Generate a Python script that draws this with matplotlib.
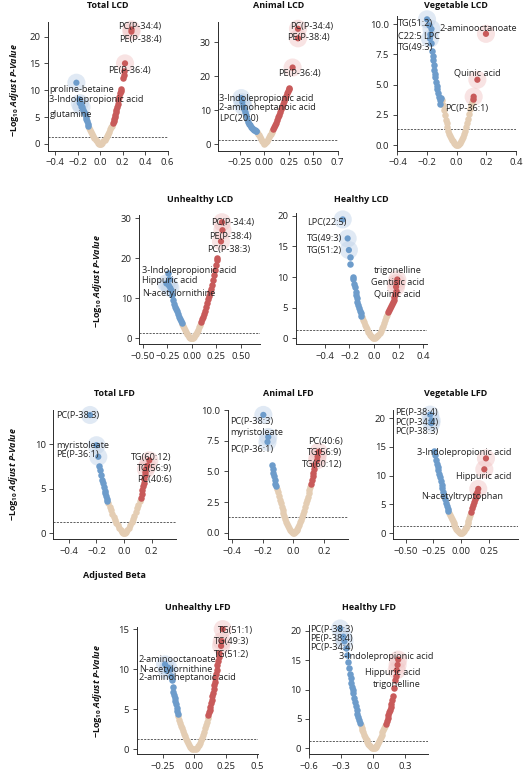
import matplotlib.pyplot as plt
import numpy as np

plt.rcParams['font.family'] = ['Open Sans', 'DejaVu Sans']
plt.rcParams['mathtext.fontset'] = 'custom'
plt.rcParams['mathtext.rm'] = 'Open Sans'
plt.rcParams['mathtext.bf'] = 'Open Sans:bold'
plt.rcParams['mathtext.it'] = 'Open Sans:italic:bold'

BLUE = '#6d9ccb'
RED = '#c85a5a'
TAN = '#e4cdb3'
BLUE_HL = '#c3d5ea'
RED_HL = '#f2c8c8'
INK = '#2b2b2b'

# ---------------- data: (beta, -log10 adjusted p) ----------------
total_lcd_down = [(-0.185, 8.3), (-0.178, 7.9), (-0.17, 7.4), (-0.16, 6.8), (-0.15, 6.4), (-0.14, 6.0),
                  (-0.133, 5.6), (-0.127, 5.1), (-0.122, 4.7), (-0.116, 4.3), (-0.11, 3.8), (-0.105, 3.4)]
total_lcd_ns = [(-0.10, 3.0), (-0.09, 2.6), (-0.08, 2.2), (-0.07, 1.8), (-0.06, 1.4), (-0.05, 1.1), (-0.04, 0.8),
                (-0.03, 0.5), (-0.02, 0.25), (-0.01, 0.08), (0.0, 0.0), (0.01, 0.08), (0.02, 0.25), (0.03, 0.5),
                (0.04, 0.8), (0.05, 1.1), (0.06, 1.5), (0.07, 1.9), (0.08, 2.3), (0.09, 2.7), (0.10, 3.1), (0.11, 3.4)]
total_lcd_up = [(0.118, 3.9), (0.122, 4.2), (0.126, 4.6), (0.13, 5.0), (0.135, 5.4), (0.14, 5.9), (0.145, 6.3),
                (0.15, 6.8), (0.156, 7.4), (0.163, 8.2), (0.17, 8.8), (0.176, 9.4), (0.182, 9.9), (0.186, 10.2),
                (0.205, 12.3), (0.21, 12.9), (0.215, 13.5)]
total_lcd_named = [("PC(P-34:4)", 0.28, 21.3), ("PE(P-38:4)", 0.279, 20.9), ("PE(P-36:4)", 0.222, 15.0),
                   ("proline-betaine", -0.21, 11.4), ("3-Indolepropionic acid", -0.18, 7.6),
                   ("glutamine", -0.165, 6.9)]

animal_lcd_down = [(-0.205, 10.5), (-0.198, 9.5), (-0.19, 8.5), (-0.18, 7.4), (-0.17, 6.7), (-0.16, 6.1),
                   (-0.15, 5.6), (-0.14, 5.2), (-0.13, 4.9), (-0.12, 4.6), (-0.11, 4.3), (-0.10, 4.1),
                   (-0.09, 3.9), (-0.082, 3.8)]
animal_lcd_ns = [(-0.075, 3.6), (-0.065, 3.1), (-0.055, 2.6), (-0.045, 2.1), (-0.035, 1.6), (-0.025, 1.1),
                 (-0.015, 0.6), (-0.007, 0.25), (0.0, 0.0), (0.007, 0.25), (0.015, 0.6), (0.025, 1.1),
                 (0.035, 1.6), (0.045, 2.1), (0.055, 2.6), (0.065, 3.1), (0.075, 3.6), (0.082, 4.0)]
animal_lcd_up = [(0.09, 4.4), (0.10, 5.0), (0.11, 5.7), (0.12, 6.4), (0.13, 7.1), (0.14, 7.9), (0.15, 8.7),
                 (0.16, 9.5), (0.17, 10.3), (0.18, 11.1), (0.19, 11.9), (0.20, 12.7), (0.21, 13.5),
                 (0.22, 14.3), (0.23, 15.0), (0.24, 15.6), (0.25, 16.2), (0.256, 16.6)]
animal_lcd_named = [("PC(P-34:4)", 0.345, 34.0), ("PE(P-38:4)", 0.345, 31.2), ("PE(P-36:4)", 0.29, 22.6),
                    ("3-Indolepropionic acid", -0.235, 13.6), ("2-aminoheptanoic acid", -0.225, 12.4),
                    ("LPC(20:0)", -0.215, 11.2)]

veg_lcd_down = [(-0.185, 9.9), (-0.178, 9.2), (-0.17, 8.4), (-0.165, 7.8), (-0.16, 7.4), (-0.158, 7.0),
                (-0.155, 6.6), (-0.152, 6.2), (-0.148, 5.9), (-0.145, 5.6), (-0.14, 5.2), (-0.135, 4.9),
                (-0.13, 4.6), (-0.125, 4.3), (-0.12, 4.0), (-0.115, 3.7), (-0.11, 3.4), (-0.104, 3.9)]
veg_lcd_ns = [(-0.098, 3.7), (-0.092, 3.3), (-0.086, 2.9), (-0.08, 2.5), (-0.074, 2.1), (-0.068, 1.8),
              (-0.062, 1.5), (-0.056, 1.2), (-0.05, 0.95), (-0.044, 0.75), (-0.038, 0.6), (-0.032, 0.45),
              (-0.026, 0.3), (-0.02, 0.18), (-0.013, 0.08), (-0.006, 0.02), (0.0, 0.0), (0.006, 0.02),
              (0.013, 0.08), (0.02, 0.18), (0.027, 0.32), (0.034, 0.48), (0.041, 0.68), (0.048, 0.9),
              (0.055, 1.15), (0.062, 1.45), (0.069, 1.8), (0.076, 2.15), (0.083, 2.55), (0.09, 2.95),
              (0.096, 3.3), (0.102, 3.6)]
veg_lcd_up = [(0.108, 3.8)]
veg_lcd_named = [("TG(51:2)", -0.2, 10.4), ("C22:5 LPC", -0.17, 9.6), ("TG(49:3)", -0.18, 8.8),
                 ("2-aminooctanoate", 0.198, 9.2), ("Quinic acid", 0.14, 5.4), ("PC(P-36:1)", 0.115, 4.0)]

unh_lcd_down = [(-0.245, 16.2), (-0.23, 14.8), (-0.21, 12.0), (-0.2, 10.8), (-0.19, 9.5), (-0.18, 8.6),
                (-0.17, 7.9), (-0.16, 7.3), (-0.15, 6.7), (-0.14, 6.0), (-0.13, 5.3), (-0.12, 4.7),
                (-0.11, 4.2), (-0.10, 3.8)]
unh_lcd_ns = [(-0.095, 3.5), (-0.085, 3.0), (-0.075, 2.5), (-0.065, 2.0), (-0.055, 1.55), (-0.045, 1.15),
              (-0.035, 0.8), (-0.025, 0.45), (-0.015, 0.2), (-0.007, 0.05), (0.0, 0.0), (0.007, 0.05),
              (0.015, 0.2), (0.025, 0.45), (0.035, 0.8), (0.045, 1.2), (0.055, 1.65), (0.065, 2.2),
              (0.075, 2.8), (0.085, 3.4)]
unh_lcd_up = [(0.095, 4.0), (0.105, 4.7), (0.115, 5.4), (0.125, 6.1), (0.135, 6.9), (0.145, 7.8), (0.155, 8.7),
              (0.165, 9.7), (0.175, 10.6), (0.185, 11.5), (0.195, 12.4), (0.205, 13.3), (0.215, 14.5),
              (0.225, 15.8), (0.235, 17.0), (0.245, 18.3), (0.255, 19.5), (0.262, 20.0)]
unh_lcd_named = [("PC(P-34:4)", 0.31, 29.0), ("PE(P-38:4)", 0.315, 27.0), ("PC(P-38:3)", 0.30, 24.2),
                 ("3-Indolepropionic acid", -0.26, 13.7), ("Hippuric acid", -0.235, 13.2),
                 ("N-acetylornithine", -0.22, 12.6)]

hea_lcd_down = [(-0.198, 13.3), (-0.193, 12.2), (-0.175, 10.0), (-0.17, 9.6), (-0.162, 8.9), (-0.155, 8.3),
                (-0.15, 7.6), (-0.145, 7.0), (-0.14, 6.5), (-0.135, 6.0), (-0.13, 5.5), (-0.125, 5.0),
                (-0.118, 4.5), (-0.11, 4.1), (-0.103, 3.7)]
hea_lcd_ns = [(-0.097, 3.4), (-0.09, 3.0), (-0.082, 2.6), (-0.074, 2.2), (-0.066, 1.8), (-0.058, 1.45),
              (-0.05, 1.1), (-0.042, 0.8), (-0.034, 0.55), (-0.026, 0.33), (-0.018, 0.15), (-0.009, 0.04),
              (0.0, 0.0), (0.009, 0.04), (0.018, 0.15), (0.027, 0.35), (0.036, 0.6), (0.045, 0.9),
              (0.054, 1.25), (0.063, 1.65), (0.072, 2.05), (0.081, 2.5), (0.09, 2.95), (0.099, 3.4),
              (0.108, 3.85)]
hea_lcd_up = [(0.117, 4.3), (0.123, 4.7), (0.13, 5.0), (0.137, 5.3), (0.145, 5.6), (0.152, 5.9), (0.16, 6.3),
              (0.165, 6.8), (0.172, 7.3), (0.178, 7.8)]
hea_lcd_named = [("LPC(22:5)", -0.255, 19.4), ("TG(49:3)", -0.215, 16.3), ("TG(51:2)", -0.205, 14.4),
                 ("trigonelline", 0.19, 9.6), ("Gentisic acid", 0.185, 9.0), ("Quinic acid", 0.18, 8.4)]

total_lfd_down = [(-0.18, 7.6), (-0.175, 7.1), (-0.165, 6.5), (-0.158, 6.0), (-0.15, 5.6), (-0.145, 5.2),
                  (-0.14, 4.8), (-0.135, 4.5), (-0.13, 4.2), (-0.125, 3.9), (-0.12, 3.6)]
total_lfd_ns = [(-0.115, 3.4), (-0.105, 3.0), (-0.095, 2.6), (-0.085, 2.2), (-0.075, 1.85), (-0.065, 1.5),
                (-0.055, 1.2), (-0.045, 0.9), (-0.035, 0.6), (-0.025, 0.35), (-0.015, 0.15), (-0.007, 0.04),
                (0.0, 0.0), (0.007, 0.04), (0.015, 0.15), (0.025, 0.35), (0.035, 0.6), (0.045, 0.9),
                (0.055, 1.25), (0.065, 1.6), (0.075, 2.0), (0.085, 2.4), (0.095, 2.8), (0.105, 3.2),
                (0.115, 3.6)]
total_lfd_up = [(0.124, 4.0), (0.13, 4.4), (0.134, 4.9), (0.138, 5.3), (0.142, 5.7), (0.146, 6.1),
                (0.15, 6.5), (0.155, 6.9)]
total_lfd_named = [("PC(P-38:3)", -0.247, 13.3), ("myristoleate", -0.2, 9.9), ("PE(P-36:1)", -0.187, 8.6),
                   ("TG(60:12)", 0.184, 8.2), ("TG(56:9)", 0.17, 7.6), ("PC(40:6)", 0.16, 7.2)]

animal_lfd_down = [(-0.14, 5.5), (-0.134, 5.2), (-0.13, 4.9), (-0.127, 4.6), (-0.122, 4.3), (-0.117, 4.0),
                   (-0.112, 3.8)]
animal_lfd_ns = [(-0.106, 3.55), (-0.1, 3.3), (-0.094, 3.0), (-0.088, 2.7), (-0.082, 2.4), (-0.076, 2.1),
                 (-0.07, 1.85), (-0.064, 1.6), (-0.058, 1.35), (-0.052, 1.1), (-0.046, 0.9), (-0.04, 0.7),
                 (-0.034, 0.52), (-0.028, 0.36), (-0.022, 0.22), (-0.016, 0.12), (-0.01, 0.05),
                 (-0.004, 0.01), (0.003, 0.01), (0.009, 0.05), (0.015, 0.11), (0.021, 0.2), (0.027, 0.32),
                 (0.033, 0.47), (0.039, 0.65), (0.045, 0.85), (0.051, 1.05), (0.057, 1.3), (0.063, 1.55),
                 (0.069, 1.8), (0.075, 2.1), (0.081, 2.4), (0.087, 2.7), (0.093, 2.95), (0.099, 3.2),
                 (0.105, 3.45), (0.111, 3.7)]
animal_lfd_up = [(0.117, 4.0), (0.121, 4.3), (0.125, 4.6), (0.128, 4.9), (0.132, 5.2), (0.136, 5.5)]
animal_lfd_named = [("PC(P-38:3)", -0.195, 9.6), ("myristoleate", -0.163, 7.8), ("PC(P-36:1)", -0.168, 7.4),
                    ("PC(40:6)", 0.165, 6.6), ("TG(56:9)", 0.158, 6.2), ("TG(60:12)", 0.155, 5.9)]

veg_lfd_down = [(-0.245, 14.3), (-0.236, 13.6), (-0.228, 12.8), (-0.22, 12.1), (-0.213, 11.5), (-0.206, 10.9),
                (-0.198, 10.3), (-0.19, 9.7), (-0.183, 9.0), (-0.176, 8.4), (-0.168, 7.8), (-0.16, 7.2),
                (-0.152, 6.5), (-0.145, 5.9), (-0.138, 5.3), (-0.13, 4.7), (-0.122, 4.2), (-0.115, 3.9)]
veg_lfd_ns = [(-0.108, 3.6), (-0.1, 3.2), (-0.092, 2.8), (-0.084, 2.4), (-0.076, 2.05), (-0.068, 1.7),
              (-0.06, 1.4), (-0.052, 1.1), (-0.044, 0.8), (-0.036, 0.55), (-0.028, 0.35), (-0.02, 0.18),
              (-0.012, 0.06), (-0.004, 0.01), (0.004, 0.01), (0.012, 0.07), (0.02, 0.2), (0.028, 0.4),
              (0.036, 0.65), (0.044, 0.95), (0.052, 1.3), (0.06, 1.7), (0.068, 2.15), (0.076, 2.6),
              (0.084, 3.1)]
veg_lfd_up = [(0.092, 3.7), (0.1, 4.3), (0.108, 4.9), (0.116, 5.4), (0.124, 5.9), (0.132, 6.3), (0.14, 6.8),
              (0.148, 7.2)]
veg_lfd_named = [("PE(P-38:4)", -0.28, 20.6), ("PC(P-34:4)", -0.267, 19.6), ("PC(P-38:3)", -0.27, 19.1),
                 ("3-Indolepropionic acid", 0.227, 13.0), ("Hippuric acid", 0.212, 11.1),
                 ("N-acetyltryptophan", 0.157, 7.7)]

unh_lfd_down = [(-0.19, 10.0), (-0.182, 9.2), (-0.177, 8.6), (-0.17, 7.8), (-0.164, 7.2), (-0.158, 6.8),
                (-0.152, 6.4), (-0.147, 6.0), (-0.143, 5.6), (-0.139, 5.2), (-0.135, 4.8), (-0.131, 4.4)]
unh_lfd_ns = [(-0.125, 4.1), (-0.117, 3.7), (-0.109, 3.3), (-0.101, 2.95), (-0.093, 2.6), (-0.085, 2.25),
              (-0.077, 1.9), (-0.069, 1.6), (-0.061, 1.3), (-0.053, 1.0), (-0.045, 0.75), (-0.037, 0.52),
              (-0.029, 0.33), (-0.021, 0.18), (-0.013, 0.07), (-0.005, 0.01), (0.005, 0.01), (0.013, 0.07),
              (0.021, 0.18), (0.029, 0.35), (0.037, 0.56), (0.045, 0.82), (0.053, 1.12), (0.061, 1.45),
              (0.069, 1.8), (0.077, 2.2), (0.085, 2.6), (0.093, 3.0), (0.101, 3.45), (0.109, 3.9)]
unh_lfd_up = [(0.115, 4.3), (0.12, 4.6), (0.125, 4.9), (0.13, 5.3), (0.135, 5.8), (0.14, 6.2), (0.145, 6.6),
              (0.15, 7.0), (0.155, 7.5), (0.16, 8.0), (0.165, 8.4), (0.17, 8.9), (0.175, 9.4), (0.18, 9.9),
              (0.185, 10.5), (0.19, 11.0), (0.195, 11.5), (0.2, 12.0)]
unh_lfd_named = [("TG(51:1)", 0.228, 15.0), ("TG(49:3)", 0.22, 13.5), ("TG(51:2)", 0.215, 12.9),
                 ("2-aminooctanoate", -0.23, 10.6), ("N-acetylornithine", -0.205, 10.2),
                 ("2-aminoheptanoic acid", -0.215, 9.8)]

hea_lfd_down = [(-0.255, 17.0), (-0.244, 15.9), (-0.237, 14.7), (-0.23, 13.6), (-0.221, 12.7), (-0.212, 11.9),
                (-0.206, 11.2), (-0.2, 10.5), (-0.194, 9.9), (-0.187, 9.4), (-0.18, 8.6), (-0.172, 7.9),
                (-0.164, 7.2), (-0.156, 6.5), (-0.148, 5.9), (-0.14, 5.4), (-0.133, 4.8), (-0.125, 4.3)]
hea_lfd_ns = [(-0.118, 3.9), (-0.11, 3.5), (-0.102, 3.1), (-0.094, 2.7), (-0.086, 2.35), (-0.078, 2.0),
              (-0.07, 1.65), (-0.062, 1.35), (-0.054, 1.05), (-0.046, 0.8), (-0.038, 0.55), (-0.03, 0.35),
              (-0.022, 0.2), (-0.014, 0.08), (-0.006, 0.01), (0.006, 0.01), (0.014, 0.08), (0.022, 0.2),
              (0.03, 0.38), (0.038, 0.6), (0.046, 0.88), (0.054, 1.2), (0.062, 1.55), (0.07, 1.95),
              (0.078, 2.35), (0.086, 2.75), (0.094, 3.15), (0.102, 3.5), (0.11, 3.8)]
hea_lfd_up = [(0.12, 4.1), (0.128, 4.6), (0.135, 5.1), (0.142, 5.6), (0.15, 6.1), (0.156, 6.5), (0.162, 7.1),
              (0.167, 7.6), (0.175, 8.3), (0.182, 8.9), (0.193, 10.3), (0.203, 11.6), (0.21, 12.3)]
hea_lfd_named = [("PC(P-38:3)", -0.31, 20.4), ("PE(P-38:4)", -0.28, 19.0), ("PC(P-34:4)", -0.27, 18.2),
                 ("3-Indolepropionic acid", 0.234, 15.1), ("Hippuric acid", 0.228, 14.2),
                 ("trigonelline", 0.22, 13.3)]

SIG_LINE = -np.log10(0.05)

# ---------------- layout (pixels in a 523 x 776 figure) ----------------
W, H = 523, 776
fig = plt.figure(figsize=(W / 100, H / 100), dpi=100)

M = '\u2212'


def fmt(vals, nd):
    return [(M if v < 0 else '') + f"{abs(v):.{nd}f}" for v in vals]


def panel(box, title, title_y, xlim, ylim, xticks, xlabels, yticks, ylabels,
          down, ns, up, named, text_pos):
    l, t, r, b = box
    ax = fig.add_axes([l / W, 1 - b / H, (r - l) / W, (b - t) / H])
    ax.set_xlim(*xlim)
    ax.set_ylim(*ylim)
    ax.axhline(SIG_LINE, color='#444444', lw=0.6, ls=(0, (2.5, 1.5)), zorder=1)
    for pts, c in ((ns, TAN), (down, BLUE), (up, RED)):
        bx, py = zip(*pts)
        ax.scatter(bx, py, s=22, color=c, lw=0, zorder=2)
    nb = np.array([n[1] for n in named])
    npv = np.array([n[2] for n in named])
    ax.scatter(nb, npv, s=170, color=np.where(nb < 0, BLUE_HL, RED_HL), alpha=0.5, lw=0, zorder=1.5,
               clip_on=False)
    ax.scatter(nb, npv, s=20, color=np.where(nb < 0, BLUE, RED), lw=0, zorder=2.5, clip_on=False)
    for (name, _, _), (tx, ty, ha) in zip(named, text_pos):
        ax.text(tx, ty, name, ha=ha, va='center', fontsize=6.6, color='#222222', zorder=4)
    ax.set_xticks(xticks)
    ax.set_xticklabels(xlabels)
    ax.set_yticks(yticks)
    ax.set_yticklabels(ylabels)
    for s in ('top', 'right'):
        ax.spines[s].set_visible(False)
    for s in ('left', 'bottom'):
        ax.spines[s].set_linewidth(0.7)
        ax.spines[s].set_color(INK)
    ax.tick_params(labelsize=6.8, length=3, width=0.6, color=INK, labelcolor='#222222', pad=2.5)
    fig.text((l + r) / 2 / W, 1 - title_y / H, title, ha='center', va='center',
             fontsize=6.5, fontweight='bold', color='#111111')
    return ax


panel((47.7, 22, 168, 150.7), "Total LCD", 6, (-0.465, 0.604), (-1.25, 22.7),
      [-0.4, -0.2, 0, 0.2, 0.4, 0.6], fmt([-0.4, -0.2, 0, 0.2, 0.4, 0.6], 1),
      [0, 5, 10, 15, 20], fmt([0, 5, 10, 15, 20], 0),
      total_lcd_down, total_lcd_ns, total_lcd_up, total_lcd_named,
      [(0.355, 21.8, 'center'), (0.355, 19.5, 'center'), (0.262, 13.6, 'center'),
       (-0.45, 10.2, 'left'), (-0.45, 8.3, 'left'), (-0.45, 5.4, 'left')])

panel((218.3, 22, 338.3, 150.7), "Animal LCD", 6, (-0.471, 0.758), (-1.88, 36),
      [-0.25, 0, 0.25, 0.5, 0.75], [M + "0.25", "0.00", "0.25", "0.50", "0.7"],
      [0, 10, 20, 30], fmt([0, 10, 20, 30], 0),
      animal_lcd_down, animal_lcd_ns, animal_lcd_up, animal_lcd_named,
      [(0.486, 34.8, 'center'), (0.456, 31.4, 'center'), (0.356, 20.7, 'center'),
       (-0.464, 13.5, 'left'), (-0.464, 10.9, 'left'), (-0.464, 7.6, 'left')])

panel((396.7, 15.7, 516, 150.7), "Vegetable LCD", 6, (-0.405, 0.401), (-0.47, 10.7),
      [-0.4, -0.2, 0, 0.2, 0.4], fmt([-0.4, -0.2, 0, 0.2, 0.4], 1),
      [0, 2.5, 5, 7.5, 10], fmt([0, 2.5, 5, 7.5, 10], 1),
      veg_lcd_down, veg_lcd_ns, veg_lcd_up, veg_lcd_named,
      [(-0.394, 10.06, 'left'), (-0.394, 8.95, 'left'), (-0.394, 8.07, 'left'),
       (-0.113, 9.6, 'left'), (-0.016, 6.0, 'left'), (-0.08, 3.0, 'left')])

panel((139.3, 215, 260, 344), "Unhealthy LCD", 199, (-0.538, 0.70), (-1.42, 30.8),
      [-0.5, -0.25, 0, 0.25, 0.5], fmt([-0.5, -0.25, 0, 0.25, 0.5], 2),
      [0, 10, 20, 30], fmt([0, 10, 20, 30], 0),
      unh_lcd_down, unh_lcd_ns, unh_lcd_up, unh_lcd_named,
      [(0.42, 29.0, 'center'), (0.40, 25.4, 'center'), (0.38, 22.1, 'center'),
       (-0.513, 17.0, 'left'), (-0.513, 14.5, 'left'), (-0.513, 11.2, 'left')])

panel((295.7, 213.3, 426.7, 344), "Healthy LCD", 199, (-0.639, 0.43), (-0.93, 20.4),
      [-0.4, -0.2, 0, 0.2, 0.4], fmt([-0.4, -0.2, 0, 0.2, 0.4], 1),
      [0, 5, 10, 15, 20], fmt([0, 5, 10, 15, 20], 0),
      hea_lcd_down, hea_lcd_ns, hea_lcd_up, hea_lcd_named,
      [(-0.545, 18.9, 'left'), (-0.545, 16.3, 'left'), (-0.545, 14.3, 'left'),
       (0.19, 11.0, 'center'), (0.19, 9.1, 'center'), (0.19, 7.2, 'center')])

panel((53.3, 410, 176, 539), "Total LFD", 393, (-0.514, 0.378), (-0.64, 13.86),
      [-0.4, -0.2, 0, 0.2], fmt([-0.4, -0.2, 0, 0.2], 1),
      [0, 5, 10], fmt([0, 5, 10], 0),
      total_lfd_down, total_lfd_ns, total_lfd_up, total_lfd_named,
      [(-0.49, 13.2, 'left'), (-0.49, 9.9, 'left'), (-0.49, 8.9, 'left'),
       (0.347, 8.5, 'right'), (0.347, 7.3, 'right'), (0.347, 6.1, 'right')])

panel((227.7, 410, 348.3, 539), "Animal LFD", 393, (-0.427, 0.358), (-0.51, 10.0),
      [-0.4, -0.2, 0, 0.2], fmt([-0.4, -0.2, 0, 0.2], 1),
      [0, 2.5, 5, 7.5, 10], fmt([0, 2.5, 5, 7.5, 10], 1),
      animal_lfd_down, animal_lfd_ns, animal_lfd_up, animal_lfd_named,
      [(-0.41, 9.1, 'left'), (-0.41, 8.2, 'left'), (-0.41, 6.8, 'left'),
       (0.32, 7.4, 'right'), (0.32, 6.5, 'right'), (0.32, 5.6, 'right')])

panel((393.3, 410, 518, 539), "Vegetable LFD", 393, (-0.615, 0.518), (-1.0, 21.4),
      [-0.5, -0.25, 0, 0.25], fmt([-0.5, -0.25, 0, 0.25], 2),
      [0, 5, 10, 15, 20], fmt([0, 5, 10, 15, 20], 0),
      veg_lfd_down, veg_lfd_ns, veg_lfd_up, veg_lfd_named,
      [(-0.6, 20.9, 'left'), (-0.6, 19.3, 'left'), (-0.6, 17.7, 'left'),
       (0.032, 14.0, 'center'), (0.206, 9.85, 'center'), (0.009, 6.4, 'center')])

panel((136.7, 626.7, 258, 754.3), "Unhealthy LFD", 608, (-0.455, 0.508), (-0.63, 15.3),
      [-0.25, 0, 0.25, 0.5], [M + "0.25", "0.00", "0.25", "0.5"],
      [0, 5, 10, 15], fmt([0, 5, 10, 15], 0),
      unh_lfd_down, unh_lfd_ns, unh_lfd_up, unh_lfd_named,
      [(0.193, 14.8, 'left'), (0.161, 13.5, 'left'), (0.161, 11.8, 'left'),
       (-0.437, 11.2, 'left'), (-0.437, 10.0, 'left'), (-0.437, 8.9, 'left')])

panel((309, 625, 428.3, 754.3), "Healthy LFD", 608, (-0.602, 0.516), (-1.02, 21.0),
      [-0.6, -0.3, 0, 0.3], fmt([-0.6, -0.3, 0, 0.3], 1),
      [0, 5, 10, 15, 20], fmt([0, 5, 10, 15, 20], 0),
      hea_lfd_down, hea_lfd_ns, hea_lfd_up, hea_lfd_named,
      [(-0.587, 20.3, 'left'), (-0.587, 18.75, 'left'), (-0.587, 17.2, 'left'),
       (0.125, 15.7, 'center'), (0.18, 12.9, 'center'), (0.225, 10.95, 'center')])

ylab = r"$\mathbf{-Log}_{\mathbf{10}}$ $\mathit{Adjust\ P}$-$\mathit{Value}$"
for x, y in ((15, 90), (97, 281), (14, 474), (97, 691)):
    fig.text(x / W, 1 - y / H, ylab, rotation=90, ha='center', va='center',
             fontsize=6.5, fontweight='bold', color='#111111')

fig.text(114 / W, 1 - 576 / H, "Adjusted Beta", ha='center', va='center',
         fontsize=6.5, fontweight='bold', color='#111111')

fig.savefig('out.png', dpi=100)
